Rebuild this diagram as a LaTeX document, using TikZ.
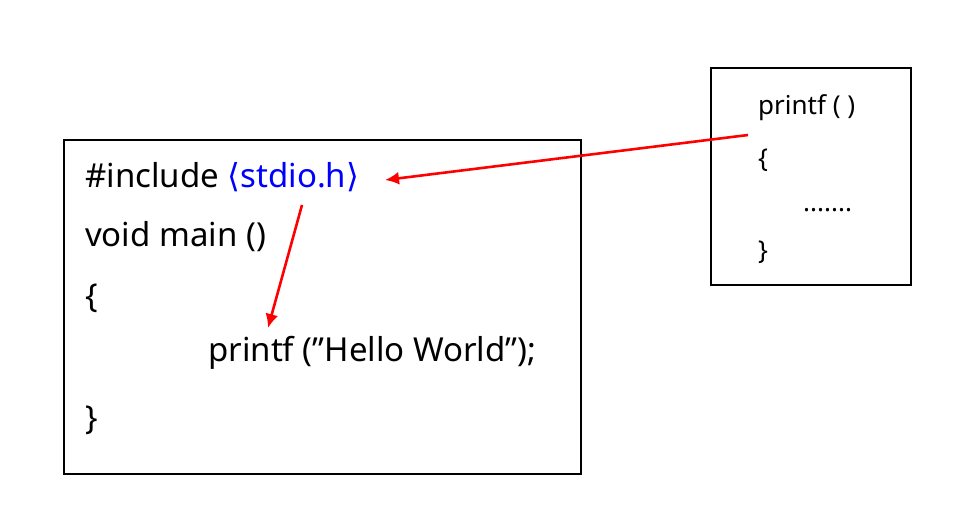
\documentclass[tikz,border=0pt]{standalone}
\usepackage{fontspec}
\setmainfont{Noto Sans}
\newfontfamily\djv{DejaVu Sans}
\usetikzlibrary{arrows.meta}
\begin{document}
\begin{tikzpicture}[x=1pt,y=-1pt,
 box/.style={draw,line width=2.4pt},
 big/.style={anchor=west,inner sep=0pt,font=\fontsize{33}{38}\selectfont},
 small/.style={anchor=west,inner sep=0pt,font=\fontsize{26}{30}\selectfont},
 arr/.style={red,line width=2.6pt,-{Latex[length=14pt,width=13pt]}}]
\useasboundingbox (0,0) rectangle (966,520);
\draw[box] (64,140) rectangle (581,474);
\draw[box] (711,68) rectangle (911,285);
\node[big] (inc) at (85,177) {\#include \textcolor{blue}{{\djv ⟨}stdio.h{\djv ⟩}}};
\node[big] (vm) at (85,237) {void main ()};
\node[big] (ob) at (85,298) {\{};
\node[big] (pf) at (208,353) {printf (”Hello World”);};
\node[big] (cb) at (85,420) {\}};
\node[small] (sp) at (758,108) {printf ( )};
\node[small] (so) at (758,160) {\{};
\node[small] (sd) at (803,210) {.......};
\node[small] (sc) at (758,252) {\}};
\coordinate (a1) at (748,135);
\coordinate (a1e) at (385,180);
\coordinate (a2) at (302,205);
\coordinate (a2e) at (268,328);
\draw[arr] (a1) -- (a1e);
\draw[arr] (a2) -- (a2e);
\end{tikzpicture}
\end{document}
